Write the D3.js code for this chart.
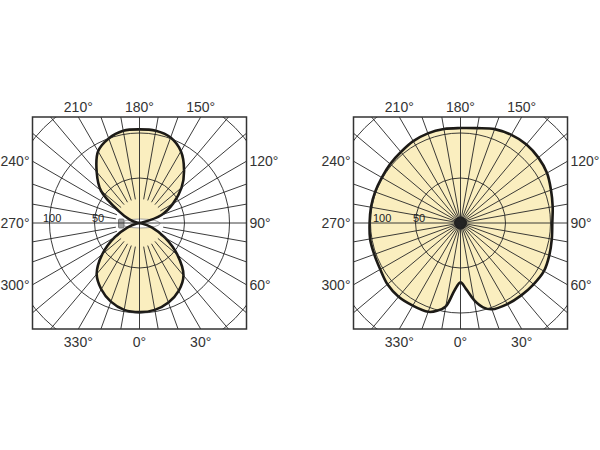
<!DOCTYPE html>
<html>
<head>
<meta charset="utf-8">
<script src="https://cdn.jsdelivr.net/npm/d3@7"></script>
<style>
  html, body { margin: 0; padding: 0; background: #ffffff; }
  svg { display: block; }
</style>
</head>
<body>
<svg id="chart" width="600" height="450"></svg>
<script>
// ---------- data ----------
const angleLabels = [0, 30, 60, 90, 120, 150, 180, 210, 240, 270, 300, 330];
const gridAngles = d3.range(0, 360, 10);
const ringValues = [50, 100, 150];
const ringLabels = ["50", "100"];

// left chart (two lobes)
const leftAngles = [0,10,20,30,40,50,60,70,80,90,100,110,120,130,140,150,160,170,
                    180,190,200,210,220,230,240,250,260,270,280,290,300,310,320,330,340,350];
const leftValues = [99,98,94,87,76,55,33,15,3,0,3,26,43,61,77,92,101,104,
                    104,104,100,92,74,56,27,12,3,0,3,14,32,54,74,85,93,98];

// right chart (wide distribution with dip at 0°)
const rightAngles = [0,5,10,15,20,30,40,50,60,70,80,90,100,110,120,130,140,150,160,170,
                     180,190,200,210,220,230,240,250,260,270,280,290,300,310,320,330,340,345,350,355];
const rightValues = [66,74,87,97,102,104,105,106,107,105,103,102,104,107,111,113,114,113,111,107,
                     105.5,106,106,105,103,102,101,101,101,101,102,102,103,106,107,106,105,101,94,75];

// ---------- layout ----------
const svg = d3.select("#chart");
const hw = 107, hh = 106;
const r = d3.scaleLinear().domain([0, 100]).range([0, 90]);
const FONT = "Liberation Sans, Arial, Helvetica, sans-serif";
const fillColor = "#faeebf";
const gridColor = "#262626";

const charts = [
  { id: "L", cx: 139.5, cy: 223, angles: leftAngles, values: leftValues, hub: "lamp", label100dx: -96.5 },
  { id: "R", cx: 460.5, cy: 223, angles: rightAngles, values: rightValues, hub: "dot", label100dx: -87.5 }
];

const rad = a => a * Math.PI / 180;
// 0° at bottom, 90° at right, 180° at top
const px = (a, v) => [Math.sin(rad(a)) * r(v), Math.cos(rad(a)) * r(v)];

charts.forEach(c => {
  const g = svg.append("g").attr("transform", `translate(${c.cx},${c.cy})`);
  const clipId = "clip" + c.id;
  svg.append("clipPath").attr("id", clipId)
    .append("rect").attr("x", c.cx - hw).attr("y", c.cy - hh).attr("width", 2 * hw).attr("height", 2 * hh);

  const pts = c.angles.map((a, i) => px(a, c.values[i]));
  const line = d3.line().curve(d3.curveCatmullRomClosed.alpha(0.5));

  // fill
  g.append("path").attr("d", line(pts)).attr("fill", fillColor).attr("stroke", "none");

  const grid = svg.append("g").attr("clip-path", `url(#${clipId})`)
    .append("g").attr("transform", `translate(${c.cx},${c.cy})`);

  // radial lines
  grid.selectAll("line.rad").data(gridAngles).join("line")
    .attr("class", "rad")
    .attr("x1", a => {
      const inner = (c.hub === "lamp" && a % 90 !== 0) ? 24 : 0;
      return Math.sin(rad(a)) * inner;
    })
    .attr("y1", a => {
      const inner = (c.hub === "lamp" && a % 90 !== 0) ? 24 : 0;
      return Math.cos(rad(a)) * inner;
    })
    .attr("x2", a => Math.sin(rad(a)) * 220)
    .attr("y2", a => Math.cos(rad(a)) * 220)
    .attr("stroke", gridColor).attr("stroke-width", 0.9);

  // rings
  grid.selectAll("circle.ring").data(ringValues).join("circle")
    .attr("class", "ring").attr("r", d => r(d))
    .attr("fill", "none").attr("stroke", gridColor).attr("stroke-width", 0.9);

  // hub
  if (c.hub === "lamp") {
    g.append("ellipse").attr("cx", 1).attr("cy", 0.5).attr("rx", 19.5).attr("ry", 4.5)
      .attr("fill", "#ffffff").attr("stroke", "#8a8a8a").attr("stroke-width", 0.8);
    g.append("rect").attr("x", -21).attr("y", -4).attr("width", 5.5).attr("height", 9).attr("rx", 1)
      .attr("fill", "#a0a0a0").attr("stroke", "#6a6a6a").attr("stroke-width", 0.8);
  }

  // outline
  g.append("path").attr("d", line(pts)).attr("fill", "none")
    .attr("stroke", "#1c1a16").attr("stroke-width", 2.6).attr("stroke-linejoin", "round");

  if (c.hub === "dot") {
    g.append("circle").attr("r", 6.5).attr("fill", "#1c1a16");
  }

  // ring labels
  g.append("text").text(ringLabels[1]).attr("x", c.label100dx).attr("y", -1.5)
    .attr("font-family", FONT).attr("font-size", 11).attr("fill", "#222");
  g.append("text").text(ringLabels[0]).attr("x", -47.5).attr("y", -1.5)
    .attr("font-family", FONT).attr("font-size", 11).attr("fill", "#222");

  // frame
  svg.append("rect").attr("x", c.cx - hw).attr("y", c.cy - hh).attr("width", 2 * hw).attr("height", 2 * hh)
    .attr("fill", "none").attr("stroke", "#333").attr("stroke-width", 1.5);

  // angle labels at frame intersections
  angleLabels.forEach(a => {
    const s = Math.sin(rad(a)), co = Math.cos(rad(a));
    const tx = Math.abs(s) > 1e-9 ? hw / Math.abs(s) : Infinity;
    const ty = Math.abs(co) > 1e-9 ? hh / Math.abs(co) : Infinity;
    const t = Math.min(tx, ty);
    const x = c.cx + s * t, y = c.cy + co * t;
    const txt = svg.append("text").text(a + "°")
      .attr("font-family", FONT).attr("font-size", 14).attr("fill", "#333");
    if (ty <= tx) {
      if (co < 0) txt.attr("x", x).attr("y", c.cy - hh - 5.5).attr("text-anchor", "middle");
      else txt.attr("x", x).attr("y", c.cy + hh + 18).attr("text-anchor", "middle");
    } else {
      if (s < 0) txt.attr("x", c.cx - hw - 3).attr("y", y + 5).attr("text-anchor", "end");
      else txt.attr("x", c.cx + hw + 3).attr("y", y + 5).attr("text-anchor", "start");
    }
  });
});
</script>
</body>
</html>
